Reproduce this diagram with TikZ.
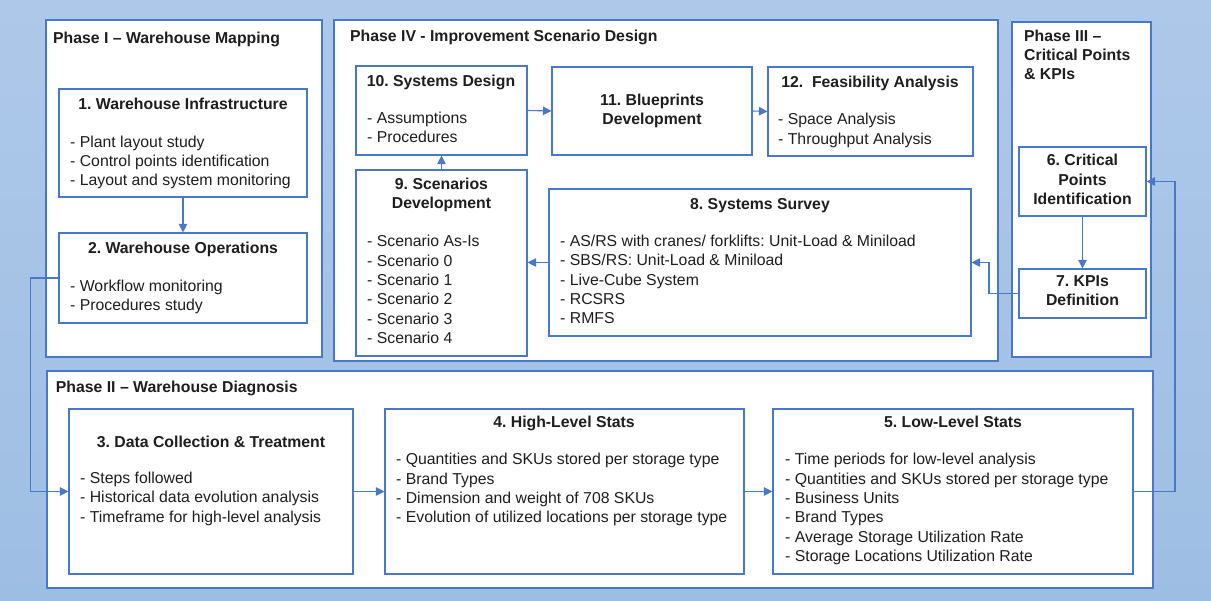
\documentclass[tikz,border=0pt]{standalone}
\usepackage{fontspec}
\setmainfont{Liberation Sans}
\usetikzlibrary{arrows.meta,fit}
\frenchspacing

\definecolor{bgtop}{HTML}{AEC8E9}
\definecolor{bgbot}{HTML}{9DBEE3}
\definecolor{edge}{HTML}{4A78C8}
\definecolor{ink}{HTML}{1E1E1E}

\tikzset{
  x=1pt, y=-1pt,
  phase/.style={draw=edge, line width=1.3pt, fill=white, inner sep=0pt},
  stage/.style={draw=edge, line width=1.1pt, fill=white, inner sep=0pt},
  txt/.style={inner sep=0pt, text=ink, font=\fontsize{15.8}{19.3}\selectfont},
  ptitle/.style={txt, font=\fontsize{15.8}{19.3}\selectfont\bfseries, anchor=base west},
  stitle/.style={txt, font=\fontsize{15.8}{19.3}\selectfont\bfseries, anchor=base},
  mtitle/.style={txt, font=\fontsize{15.8}{19.3}\selectfont\bfseries, anchor=north, align=center, execute at begin node=\strut},
  items/.style={txt, anchor=north west, align=left, execute at begin node=\strut},
  arr/.style={draw=edge, line width=1.1pt, -{Triangle[length=8.5pt,width=8.5pt]}},
}

\begin{document}
\begin{tikzpicture}
\useasboundingbox (0,0) rectangle (1211,601);
\fill[top color=bgtop, bottom color=bgbot] (0,0) rectangle (1211,601);

% phase frames
\node[phase, fit={(46,20) (322,357)}] (p1) {};
\node[phase, fit={(334,20) (998,361)}] (p4) {};
\node[phase, fit={(1012,22) (1151,357)}] (p3) {};
\node[phase, fit={(47,371) (1153,588)}] (p2) {};

\node[ptitle] (p1t) at (53,44) {Phase I -- Warehouse Mapping};
\node[ptitle] (p4t) at (350,41.5) {Phase IV - Improvement Scenario Design};
\node[ptitle] (p2t) at (55.7,392.2) {Phase II -- Warehouse Diagnosis};
\node[items, font=\fontsize{15.8}{19.3}\selectfont\bfseries] (p3t) at (1024,29.7)
  {Phase III --\\Critical Points\\\& KPIs};

% stage boxes
\node[stage, fit={(59,89) (307,197)}] (b1) {};
\node[stage, fit={(59,233) (307,323)}] (b2) {};
\node[stage, fit={(356,66) (527,155)}] (b10) {};
\node[stage, fit={(552,67) (752,155)}] (b11) {};
\node[stage, fit={(768,67) (973,156)}] (b12) {};
\node[stage, fit={(356,170) (527,356)}] (b9) {};
\node[stage, fit={(549,189) (971,336)}] (b8) {};
\node[stage, fit={(1019,147) (1146,216)}] (b6) {};
\node[stage, fit={(1019,269) (1146,318)}] (b7) {};
\node[stage, fit={(69,409) (353,574)}] (b3) {};
\node[stage, fit={(385,409) (744,574)}] (b4) {};
\node[stage, fit={(773,409) (1133,574)}] (b5) {};

% stage texts
\node[stitle] (t1) at (183,109.5) {1. Warehouse Infrastructure};
\node[items] (l1) at (70,135.5) {- Plant layout study\\- Control points identification\\- Layout and system monitoring};

\node[stitle] (t2) at (183,253.8) {2. Warehouse Operations};
\node[items] (l2) at (70,279.5) {- Workflow monitoring\\- Procedures study};

\node[stitle] (t10) at (441,86.5) {10. Systems Design};
\node[items] (l10) at (367,112) {- Assumptions\\- Procedures};

\node[mtitle] (t11) at (652,94) {11. Blueprints\\Development};

\node[stitle] (t12) at (870,87.2) {12.\ \ Feasibility Analysis};
\node[items] (l12) at (778,113.2) {- Space Analysis\\- Throughput Analysis};

\node[mtitle] (t9) at (441.5,177.7) {9. Scenarios\\Development};
\node[items] (l9) at (367,235.2) {- Scenario As-Is\\- Scenario 0\\- Scenario 1\\- Scenario 2\\- Scenario 3\\- Scenario 4};

\node[stitle] (t8) at (760,209.8) {8. Systems Survey};
\node[items] (l8) at (560,234.8) {- AS/RS with cranes/ forklifts: Unit-Load \& Miniload\\- SBS/RS: Unit-Load \& Miniload\\- Live-Cube System\\- RCSRS\\- RMFS};

\node[mtitle] (t6) at (1082.5,154.3) {6. Critical\\Points\\Identification};
\node[mtitle] (t7) at (1082.5,275.3) {7. KPIs\\Definition};

\node[stitle] (t3) at (211,447.8) {3. Data Collection \& Treatment};
\node[items] (l3) at (80,471.8) {- Steps followed\\- Historical data evolution analysis\\- Timeframe for high-level analysis};

\node[stitle] (t4) at (564,427.8) {4. High-Level Stats};
\node[items] (l4) at (396,453.2) {- Quantities and SKUs stored per storage type\\- Brand Types\\- Dimension and weight of 708 SKUs\\- Evolution of utilized locations per storage type};

\node[stitle] (t5) at (953,427.8) {5. Low-Level Stats};
\node[items] (l5) at (785,453.2) {- Time periods for low-level analysis\\- Quantities and SKUs stored per storage type\\- Business Units\\- Brand Types\\- Average Storage Utilization Rate\\- Storage Locations Utilization Rate};

% routing points for the bent connectors
\coordinate (k23) at (30.7,0);
\coordinate (k56) at (1175,0);
\coordinate (k78) at (989,0);

% connectors
\draw[arr] (b1.south) -- (b2.north);
\draw[arr] (b2.west) -- (k23 |- b2.west) -- (k23 |- b3.west) -- (b3.west);
\draw[arr] (b3.east) -- (b4.west);
\draw[arr] (b4.east) -- (b5.west);
\draw[arr] (b5.east) -- (k56 |- b5.east) -- (k56 |- b6.east) -- (b6.east);
\draw[arr] (b6.south) -- (b7.north);
\draw[arr] (b7.west) -- (k78 |- b7.west) -- (k78 |- b8.east) -- (b8.east);
\draw[arr] (b8.west) -- (b8.west -| b9.east);
\draw[arr] (b9.north) -- (b10.south);
\draw[arr] (b10.east) -- (b11.west);
\draw[arr] (b11.east) -- (b12.west);
\end{tikzpicture}
\end{document}
